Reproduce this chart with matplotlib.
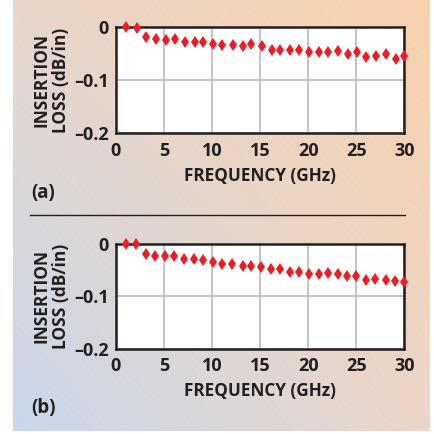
import numpy as np
import matplotlib
matplotlib.use("Agg")
import matplotlib.pyplot as plt

plt.rcParams['font.family'] = ['Open Sans', 'DejaVu Sans']
plt.rcParams['font.weight'] = 'bold'

# datos
freq_a = [1.1, 2.2, 3.1, 4.2, 5.2, 6.2, 7.2, 8.2, 9.1, 10.1, 11.1, 12.2, 13.2, 14.1, 15.2,
          16.2, 17.1, 18.1, 19.1, 20.1, 21.1, 22.1, 23.1, 24.1, 25.1, 26.0, 27.1, 28.1, 29.1, 30.0]
loss_a = [0.0, -0.001, -0.0175, -0.0225, -0.024, -0.0225, -0.027, -0.0275, -0.0275, -0.032,
          -0.0325, -0.0325, -0.036, -0.032, -0.035, -0.042, -0.0425, -0.042, -0.043, -0.046,
          -0.046, -0.046, -0.0455, -0.0505, -0.046, -0.0555, -0.055, -0.051, -0.06, -0.055]

freq_b = [1.1, 2.1, 3.1, 4.1, 5.1, 6.1, 7.1, 8.1, 9.1, 10.1, 11.1, 12.1, 13.2, 14.1, 15.1,
          16.1, 17.1, 18.1, 19.1, 20.1, 21.1, 22.1, 23.1, 24.0, 25.0, 26.0, 27.0, 28.1, 29.0, 30.0]
loss_b = [0.0, 0.0, -0.019, -0.023, -0.023, -0.023, -0.0285, -0.0285, -0.032, -0.034,
          -0.0386, -0.0386, -0.043, -0.043, -0.0437, -0.0487, -0.0475, -0.053, -0.053, -0.057,
          -0.057, -0.056, -0.057, -0.0608, -0.0614, -0.0684, -0.0677, -0.0684, -0.0703, -0.0722]

xticks = [0, 5, 10, 15, 20, 25, 30]
yticks = [0, -0.1, -0.2]
ylabels = ['0', '\u20130.1', '\u20130.2']
txt = '#231f20'

fig = plt.figure(figsize=(4.34, 4.34), dpi=100)

# fondo con degradado
bg = fig.add_axes([13/434, 3/434, 417/434, 431/434])
tl = np.array([232, 214, 202]) / 255
tr = np.array([250, 210, 172]) / 255
bl = np.array([200, 215, 236]) / 255
br = np.array([236, 214, 200]) / 255
u = np.linspace(0, 1, 200)[None, :, None]
v = np.linspace(0, 1, 200)[:, None, None]
img = (1 - v) * ((1 - u) * tl + u * tr) + v * ((1 - u) * bl + u * br)
bg.imshow(img, extent=[0, 1, 0, 1], aspect='auto', origin='upper')
for c in np.arange(-1, 2, 0.02):
    bg.plot([c, c + 1], [1, 0], color='white', lw=0.3, alpha=0.18)
bg.set_xlim(0, 1)
bg.set_ylim(0, 1)
bg.axis('off')

def panel(rect, f, l):
    ax = fig.add_axes(rect)
    ax.set_facecolor('white')
    ax.plot(f, l, linestyle='none', marker='d', color='#ed1c24', markersize=6.2,
            markeredgewidth=0, clip_on=False, zorder=5)
    ax.set_xlim(0, 30)
    ax.set_ylim(-0.2, 0)
    ax.set_xticks(xticks)
    ax.set_yticks(yticks)
    ax.set_yticklabels(ylabels)
    ax.grid(True, color='#c4c4c6', lw=1.4)
    ax.tick_params(length=0, labelsize=13, labelcolor=txt)
    ax.tick_params(axis='x', pad=6)
    ax.tick_params(axis='y', pad=5)
    for lab in ax.get_xticklabels() + ax.get_yticklabels():
        lab.set_fontweight('bold')
    for s in ax.spines.values():
        s.set_linewidth(1.8)
        s.set_color('#231f20')
    ax.set_xlabel('FREQUENCY (GHz)', fontsize=12.3, fontweight='bold', color=txt, labelpad=5)
    ax.set_ylabel('INSERTION\nLOSS (dB/in)', fontsize=12.5, fontweight='bold', color=txt,
                  linespacing=1.1, labelpad=3)
    return ax

ax1 = panel([0.2666, 0.693, 0.665, 0.244], freq_a, loss_a)
ax2 = panel([0.2666, 0.196, 0.665, 0.2426], freq_b, loss_b)

fig.text(31/434, 1 - 193/434, '(a)', fontsize=13.5, fontweight='bold', color=txt, va='center')
fig.text(31/434, 1 - 408/434, '(b)', fontsize=13.5, fontweight='bold', color=txt, va='center')
fig.add_artist(plt.Line2D([30/434, 405/434], [1 - 215/434, 1 - 215/434], color='#231f20', lw=1.0))

fig.savefig('out.png', dpi=100)
